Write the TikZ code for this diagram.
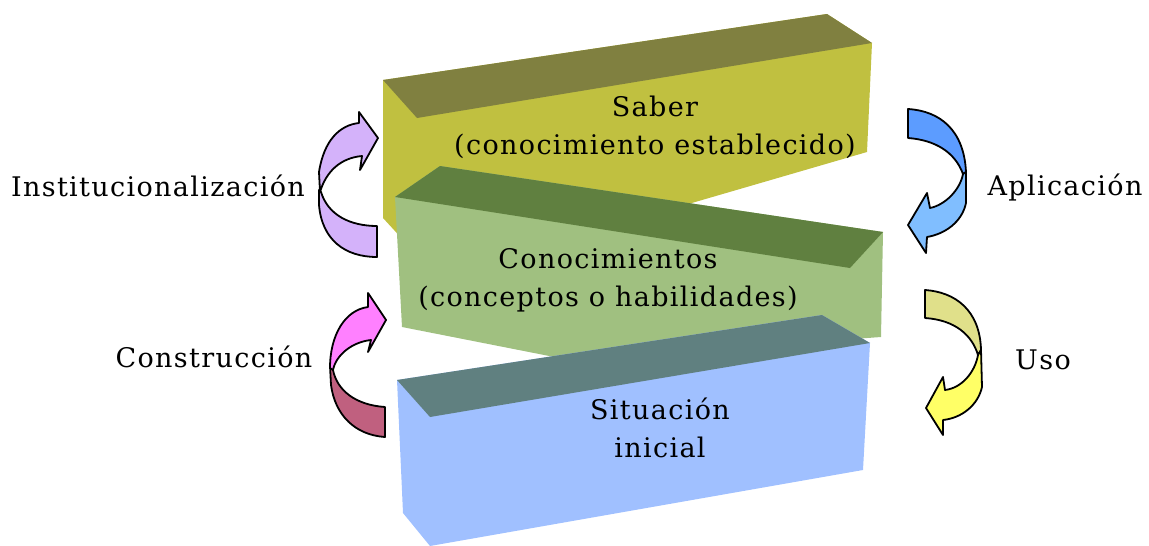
\documentclass[tikz,border=0pt]{standalone}
\usepackage{fontspec}
\setmainfont{DejaVu Serif}[LetterSpace=5]
\definecolor{sabfront}{HTML}{C0C040}
\definecolor{sabtop}{HTML}{808040}
\definecolor{conofront}{HTML}{A0C080}
\definecolor{conotop}{HTML}{608040}
\definecolor{situfront}{HTML}{A0C0FF}
\definecolor{situtop}{HTML}{608080}
\definecolor{instcol}{HTML}{D4B2FA}
\definecolor{aplitop}{HTML}{5C9CFF}
\definecolor{aplibot}{HTML}{80BEFF}
\definecolor{constop}{HTML}{FF80FF}
\definecolor{consbot}{HTML}{C0607F}
\definecolor{usotop}{HTML}{E0E08A}
\definecolor{usobot}{HTML}{FFFF66}
\begin{document}
\begin{tikzpicture}[x=1pt,y=-1pt,
	txt/.style={font=\fontsize{27}{38}\selectfont, align=center, inner sep=0pt},
	curvearrow/.style={draw=black, line width=1.8pt, line join=round}]
	\useasboundingbox (0,0) rectangle (1149,546);

	\fill[sabfront] (383,80) -- (827,14) -- (872,43) -- (867,152) -- (417,283) -- (417,255) -- (383,218) -- cycle;
	\fill[sabtop] (383,80) -- (827,14) -- (872,43) -- (417,118) -- cycle;

	\fill[conofront] (395,197) -- (440,166) -- (883,232) -- (881,337) -- (840,340) -- (600,366) -- (402,327) -- cycle;
	\fill[conotop] (395,197) -- (440,166) -- (883,232) -- (850,268) -- cycle;

	\fill[situfront] (397,380) -- (822,315) -- (870,343) -- (863,470) -- (430,546) -- (403,513) -- cycle;
	\fill[situtop] (397,380) -- (822,315) -- (870,343) -- (430,417) -- cycle;

	\node[txt] (saber) at (655,127) {Saber\\(conocimiento establecido)};
	\node[txt] (conoc) at (608,280) {Conocimientos\\(conceptos o habilidades)};
	\node[txt] (situ) at (660,428) {Situación\\inicial};

	\node[txt, anchor=base] (inst) at (158,196) {Institucionalización};
	\node[txt, anchor=base] (apli) at (1065,195) {Aplicación};
	\node[txt, anchor=base] (cons) at (214,367) {Construcción};
	\node[txt, anchor=base] (uso) at (1043,369) {Uso};

	\draw[curvearrow, fill=instcol] (319,190) -- (319,205) .. controls (322,240) and (345,257) .. (377,257) -- (377,226) .. controls (350,226) and (328,215) .. (321,192) -- cycle;
	\draw[curvearrow, fill=instcol] (320,192) -- (319,172) .. controls (324,140) and (340,125) .. (359,123) -- (359,112) -- (378,138) -- (360,170) -- (362,156) .. controls (340,158) and (326,172) .. cycle;

	\draw[curvearrow, fill=aplitop] (908,109) .. controls (940,111) and (964,130) .. (966,172) -- (963,174) .. controls (955,152) and (935,140) .. (908,138) -- cycle;
	\draw[curvearrow, fill=aplibot] (966,172) -- (966,203) .. controls (962,222) and (945,234) .. (927,237) -- (926,253) -- (908,225) -- (927,193) -- (930,208) .. controls (945,205) and (960,190) .. (963,174) -- cycle;

	\draw[curvearrow, fill=consbot] (330,366) -- (331,385) .. controls (335,415) and (355,435) .. (385,437) -- (385,407) .. controls (355,405) and (337,390) .. (333,370) -- cycle;
	\draw[curvearrow, fill=constop] (330,368) .. controls (330,335) and (345,310) .. (368,307) -- (368,293) -- (386,320) -- (368,352) -- (371,340) .. controls (352,342) and (336,355) .. (333,370) -- cycle;

	\draw[curvearrow, fill=usotop] (925,290) .. controls (955,292) and (980,310) .. (981,350) -- (978,355) .. controls (972,335) and (955,320) .. (925,318) -- cycle;
	\draw[curvearrow, fill=usobot] (981,350) -- (982,387) .. controls (978,405) and (962,418) .. (943,420) -- (943,435) -- (926,408) -- (943,377) -- (945,390) .. controls (962,388) and (975,372) .. (978,355) -- cycle;
\end{tikzpicture}
\end{document}
